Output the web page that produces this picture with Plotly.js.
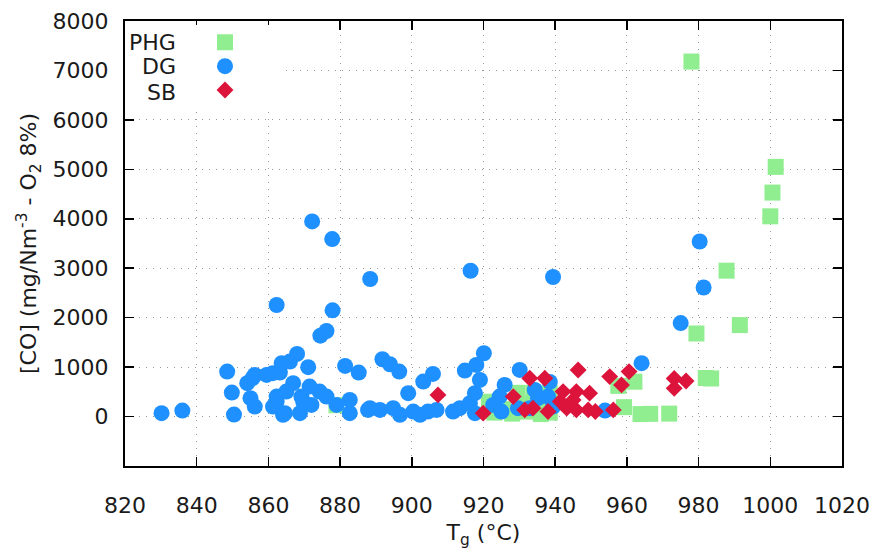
<!DOCTYPE html>
<html>
<head>
<meta charset="utf-8">
<script src="https://cdn.plot.ly/plotly-3.0.1.min.js"></script>
<style>html,body{margin:0;padding:0;background:#fff;}#chart{width:876px;height:549px;}</style>
</head>
<body>
<div id="chart"></div>
<script>
// Series names
const seriesNames = ["PHG", "DG", "SB"];

// PHG (light green squares)
const phgT = [879, 921.5, 923, 925.5, 928, 929.5, 930.5, 932, 934, 935, 936, 938.5, 938, 938.5, 957.6, 959.2, 962.1, 963.8, 966.5, 971.8, 978, 979.4, 982, 983.5, 987.8, 991.5, 1000, 1000.6, 1001.5];
const phgCO = [230, 300, 80, 150, 60, 480, 260, 100, 480, 300, 50, 470, 260, 80, 620, 190, 705, 50, 55, 60, 7180, 1680, 780, 770, 2950, 1850, 4050, 4530, 5050];

// DG (blue circles)
const dgT = [830.2, 836, 848.5, 849.8, 850.4, 854.1, 855.6, 855, 856.2, 856.2, 859.5, 861.2, 863.2, 863.7, 866, 868, 871.1, 874.5, 876.2, 862.3, 872.2, 877.8, 877.9, 888.4, 916.4, 939.4, 881.4, 885.2, 891.8, 893.9, 896.5, 905.9, 914.8, 918, 920.1, 930.1, 871.5, 874.3, 862.3, 864.6, 868.8, 872, 879, 882.7, 882.7, 887.8, 861.3, 864.1, 862.3, 865, 866.9, 869.2, 869.7, 876.2, 903.2, 899, 888.3, 891.1, 894.8, 896.7, 900.4, 902.3, 904.5, 906.9, 911.5, 913.4, 916.2, 917.6, 919, 917.6, 925.9, 924.5, 922.7, 925, 929.6, 934.3, 935.2, 938, 938.5, 932.9, 939.4, 953.9, 964.1, 975, 980.3, 981.4];
const dgCO = [69, 121, 909, 485, 40, 675, 776, 372, 202, 842, 842, 877, 889, 1079, 1111, 1267, 998, 1636, 1731, 2256, 3947, 3590, 2149, 2782, 2949, 2822, 1024, 889, 1159, 1058, 909, 863, 929, 1044, 1281, 943, 606, 505, 303, 69, 69, 236, 236, 337, 69, 135, 202, 34, 404, 505, 675, 404, 303, 404, 707, 473, 170, 135, 170, 34, 101, 34, 101, 135, 101, 170, 271, 473, 741, 69, 640, 404, 236, 101, 170, 539, 372, 404, 700, 170, 202, 121, 1080, 1890, 3540, 2610];

// SB (crimson diamonds)
const sbT = [907.3, 919.9, 928.3, 932.9, 937.1, 931.5, 933.8, 938, 942.2, 945.9, 949.6, 946.4, 941.4, 943.2, 945.9, 949.2, 951.2, 945, 955.2, 958.5, 960.6, 956.2, 973.2, 976.5, 973.2];
const sbCO = [438, 69, 404, 776, 776, 135, 170, 101, 505, 505, 473, 943, 303, 170, 135, 135, 101, 337, 808, 640, 909, 135, 770, 720, 570];

// Axis ticks
const xTicks = [820, 840, 860, 880, 900, 920, 940, 960, 980, 1000, 1020];
const yTicks = [0, 1000, 2000, 3000, 4000, 5000, 6000, 7000, 8000];

const FONT = "DejaVu Sans, sans-serif";

const traces = [
  {x: phgT, y: phgCO, name: seriesNames[0], type: "scatter", mode: "markers",
   marker: {symbol: "square", size: 16, color: "#90ee90"}},
  {x: dgT, y: dgCO, name: seriesNames[1], type: "scatter", mode: "markers",
   marker: {symbol: "circle", size: 16, color: "#1e90ff"}},
  {x: sbT, y: sbCO, name: seriesNames[2], type: "scatter", mode: "markers",
   marker: {symbol: "diamond", size: 13, color: "#dc143c"}}
];

const axisCommon = {
  showline: true, linecolor: "#000", linewidth: 2, mirror: "allticks",
  ticks: "inside", ticklen: 9, tickwidth: 1.5, tickcolor: "#000",
  showgrid: true, gridcolor: "#999", gridwidth: 1, griddash: "1px,6px",
  zeroline: false,
  tickfont: {family: FONT, size: 22, color: "#1a1a1a"}
};

const layout = {
  width: 876, height: 549,
  margin: {l: 125, r: 34, t: 21, b: 83},
  paper_bgcolor: "#fff", plot_bgcolor: "#fff",
  font: {family: FONT, size: 22, color: "#1a1a1a"},
  xaxis: Object.assign({}, axisCommon, {
    range: [820, 1020], tickvals: xTicks, ticktext: xTicks.map(String),
    ticklabelstandoff: 19,
    title: {text: "T<sub>g</sub> (°C)", font: {family: FONT, size: 22, color: "#1a1a1a"}, standoff: 10}
  }),
  yaxis: Object.assign({}, axisCommon, {
    range: [-1000, 8000], tickvals: yTicks, ticktext: yTicks.map(String),
    ticklabelstandoff: 10,
    title: {text: "[CO] (mg/Nm<sup>-3</sup> - O<sub>2</sub> 8%)", font: {family: FONT, size: 22, color: "#1a1a1a"}, standoff: 10}
  }),
  showlegend: true,
  legend: {
    x: 0, xanchor: "left", y: 0.99, yanchor: "top",
    bgcolor: "#fff", borderwidth: 0,
    indentation: 80, itemwidth: 30,
    font: {family: FONT, size: 16, color: "rgba(0,0,0,0)"},
    traceorder: "normal"
  },
  annotations: seriesNames.map((n, i) => ({
    text: n, xref: "paper", yref: "paper",
    x: 0.0745, y: [0.952, 0.897, 0.84][i],
    xanchor: "right", yanchor: "middle", showarrow: false,
    font: {family: FONT, size: 22, color: "#1a1a1a"}
  }))
};

Plotly.newPlot("chart", traces, layout, {displayModeBar: false, staticPlot: true});
</script>
</body>
</html>
